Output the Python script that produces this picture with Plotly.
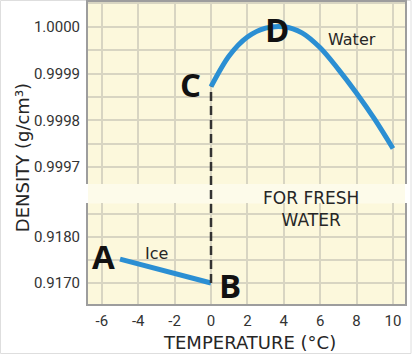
import plotly.graph_objects as go

# ---------------- data ----------------
ice_temp = [-5, 0]
ice_density = [0.91752, 0.91700]

water_temp = [0, 1, 2, 3, 4, 5, 6, 7, 8, 9, 10]
water_density = [0.999872, 0.999938, 0.999978, 0.999997, 1.00000, 0.999987,
                 0.999955, 0.999909, 0.999858, 0.999802, 0.999740]

x_ticks = [-6, -4, -2, 0, 2, 4, 6, 8, 10]
x_tick_labels = ["-6", "-4", "-2", "0", "2", "4", "6", "8", "10"]

top_ticks = [0.99965, 0.9997, 0.99975, 0.9998, 0.99985, 0.9999, 0.99995, 1.0, 1.00005]
top_tick_labels = ["", "0.9997", "", "0.9998", "", "0.9999", "", "1.0000", ""]

bottom_ticks = [0.9165, 0.9170, 0.9175, 0.9180, 0.9185]
bottom_tick_labels = ["", "0.9170", "", "0.9180", ""]

point_labels = ["A", "B", "C", "D"]

# ---------------- layout constants ----------------
x_range = [-6.76, 10.66]
bottom_range = [0.916543, 0.918739]
top_range = [0.999664, 1.0000528]
bottom_domain = [0.0, 0.334]
top_domain = [0.397, 1.0]

BG = "#fcf8dc"
BAND = "#fdfbea"
GRID = "#d8d5c2"
FRAME = "#9d9d9d"
BLUE = "#2b8fd3"
TXT = "#262626"
TICKFONT = dict(family="Roboto, Liberation Sans, sans-serif", size=15, color="#333333")
LABFONT = "DejaVu Sans, Open Sans, sans-serif"


def to_paper(v, rng, dom):
    return dom[0] + (v - rng[0]) / (rng[1] - rng[0]) * (dom[1] - dom[0])


fig = go.Figure()

fig.add_trace(go.Scatter(x=ice_temp, y=ice_density, mode="lines",
                         line=dict(color=BLUE, width=5), xaxis="x", yaxis="y",
                         hoverinfo="skip", showlegend=False))
fig.add_trace(go.Scatter(x=water_temp, y=water_density, mode="lines",
                         line=dict(color=BLUE, width=5, shape="spline", smoothing=0.9),
                         xaxis="x2", yaxis="y2", hoverinfo="skip", showlegend=False))

# break band between the two panels
fig.add_shape(type="rect", xref="paper", yref="paper", x0=0, x1=1,
              y0=bottom_domain[1], y1=top_domain[0],
              fillcolor=BAND, line=dict(width=0), layer="below")

# dashed phase-change line from B up to C
fig.add_shape(type="line", xref="x", yref="paper",
              x0=ice_temp[-1], x1=water_temp[0],
              y0=to_paper(ice_density[-1], bottom_range, bottom_domain),
              y1=to_paper(water_density[0], top_range, top_domain),
              line=dict(color="#333333", width=2.5, dash="9px,5px"), layer="above")

# light outer frame of the picture
fig.add_shape(type="rect", xref="paper", yref="paper",
              x0=-87.5 / 317, x1=1 + 6 / 317, y0=-49.5 / 302, y1=1 + 1.5 / 302,
              line=dict(color="#dedede", width=1), fillcolor="rgba(0,0,0,0)", layer="below")

axis_common = dict(showgrid=True, gridcolor=GRID, gridwidth=1.5, zeroline=False,
                   showline=True, linecolor=FRAME, linewidth=2, ticks="",
                   tickfont=TICKFONT, fixedrange=True, automargin=False)

fig.update_layout(
    width=418, height=356,
    margin=dict(l=88, r=13, t=2, b=52),
    paper_bgcolor="white", plot_bgcolor=BG,
    showlegend=False,
    xaxis=dict(anchor="y", domain=[0, 1], range=x_range, tickmode="array",
               tickvals=x_ticks, ticktext=x_tick_labels, ticklabelstandoff=2, **axis_common),
    xaxis2=dict(anchor="y2", domain=[0, 1], range=x_range, matches="x", side="top",
                tickmode="array", tickvals=x_ticks, showticklabels=False, **axis_common),
    yaxis=dict(anchor="x", domain=bottom_domain, range=bottom_range, tickmode="array",
               tickvals=bottom_ticks, ticktext=bottom_tick_labels, mirror=True,
               ticklabelstandoff=3, **axis_common),
    yaxis2=dict(anchor="x2", domain=top_domain, range=top_range, tickmode="array",
                tickvals=top_ticks, ticktext=top_tick_labels, mirror=True,
                ticklabelstandoff=3, **axis_common),
)

# point letters
letter_font = dict(family="Open Sans, DejaVu Sans, sans-serif", size=33, color="#111111", weight="bold")
d_idx = water_density.index(max(water_density))
letter_pos = [
    (ice_temp[0], ice_density[0], "y", -17, 3),
    (ice_temp[-1], ice_density[-1], "y", 19, -2),
    (water_temp[0], water_density[0], "y2", -21, 2),
    (water_temp[d_idx], water_density[d_idx], "y2", -7, -3),
]
for lab, (xv, yv, yr, dx, dy) in zip(point_labels, letter_pos):
    fig.add_annotation(x=xv, y=yv, xref="x" if yr == "y" else "x2", yref=yr, text=lab,
                       showarrow=False, xshift=dx, yshift=dy, font=letter_font,
                       xanchor="center", yanchor="middle")

fig.add_annotation(x=-3.0, y=0.91765, xref="x", yref="y", text="Ice", showarrow=False,
                   font=dict(family=LABFONT, size=16, color=TXT), xanchor="center", yanchor="middle")
fig.add_annotation(x=7.72, y=0.999972, xref="x2", yref="y2", text="Water", showarrow=False,
                   font=dict(family=LABFONT, size=16, color=TXT), xanchor="center", yanchor="middle")
fig.add_annotation(x=0.702, y=0.316, xref="paper", yref="paper", text="FOR FRESH<br>WATER",
                   showarrow=False, font=dict(family=LABFONT, size=17, color=TXT),
                   xanchor="center", yanchor="middle", align="center")

# axis titles
fig.add_annotation(x=0.511, y=-0.129, xref="paper", yref="paper", text="TEMPERATURE (°C)",
                   showarrow=False, font=dict(family=LABFONT, size=18, color=TXT),
                   xanchor="center", yanchor="middle")
fig.add_annotation(x=-0.208, y=0.483, xref="paper", yref="paper", text="DENSITY (g/cm³)",
                   showarrow=False, textangle=-90, font=dict(family=LABFONT, size=18, color=TXT),
                   xanchor="center", yanchor="middle")

fig.write_html("out.html", config={"displayModeBar": False},
               post_script="document.body.style.margin='0';document.body.style.padding='0';")
